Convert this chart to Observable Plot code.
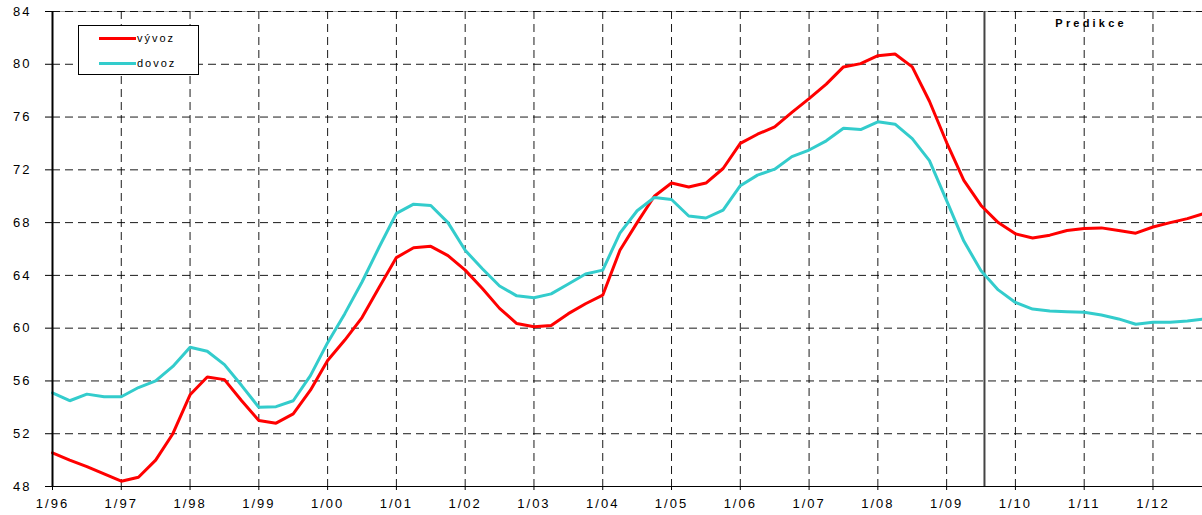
<!DOCTYPE html>
<html>
<head>
<meta charset="utf-8">
<script src="https://cdn.jsdelivr.net/npm/d3@7"></script>
<script src="https://cdn.jsdelivr.net/npm/@observablehq/plot@0.6"></script>
<style>
  html, body { margin: 0; padding: 0; background: #fff; }
  #wrap { position: relative; width: 1202px; height: 515px; }
  .legend { position: absolute; left: 78px; top: 25px; width: 121px; height: 50px;
    border: 1px solid #000; background: #fff; box-sizing: border-box;
    font-family: "Liberation Sans", Arial, sans-serif; font-size: 11px; letter-spacing: 2px; color: #000; }
  .legend .item { position: absolute; left: 20px; height: 14px; display: flex; align-items: center; }
  .legend .sw { width: 37px; height: 3px; margin-right: 1px; }
</style>
</head>
<body>
<div id="wrap"></div>
<script>
// ---- data (quarterly, 1996 Q1 .. 2012 Q4) ----
const startYear = 1996;
const seriesNames = ["vývoz", "dovoz"];
const seriesColors = ["#FF0000", "#33CCCC"];

const vyvoz = [
  50.55, 50.0, 49.5, 48.95,   // 1996
  48.4, 48.7, 50.0, 52.0,     // 1997
  54.95, 56.3, 56.1, 54.5,    // 1998
  53.0, 52.8, 53.5, 55.3,     // 1999
  57.55, 59.1, 60.8, 63.1,    // 2000
  65.35, 66.1, 66.2, 65.5,    // 2001
  64.4, 63.0, 61.5, 60.35,    // 2002
  60.1, 60.2, 61.1, 61.85,    // 2003
  62.5, 65.9, 68.0, 70.0,     // 2004
  71.0, 70.7, 71.0, 72.1,     // 2005
  74.0, 74.7, 75.25, 76.35,   // 2006
  77.4, 78.5, 79.8, 80.05,    // 2007
  80.65, 80.78, 79.8, 77.2,   // 2008
  74.07, 71.2, 69.3, 68.0,    // 2009
  67.15, 66.83, 67.05, 67.4,  // 2010
  67.55, 67.6, 67.4, 67.2,    // 2011
  67.67, 68.0, 68.3, 68.7     // 2012
];
const dovoz = [
  55.1, 54.5, 55.0, 54.8,     // 1996
  54.8, 55.5, 56.0, 57.1,     // 1997
  58.55, 58.25, 57.24, 55.65, // 1998
  54.0, 54.05, 54.5, 56.4,    // 1999
  58.9, 61.1, 63.5, 66.15,    // 2000
  68.7, 69.4, 69.3, 68.0,     // 2001
  65.9, 64.5, 63.2, 62.45,    // 2002
  62.3, 62.6, 63.35, 64.1,    // 2003
  64.4, 67.2, 68.9, 69.9,     // 2004
  69.75, 68.5, 68.35, 68.95,  // 2005
  70.8, 71.6, 72.05, 73.0,    // 2006
  73.5, 74.2, 75.15, 75.05,   // 2007
  75.64, 75.46, 74.37, 72.7,  // 2008
  69.66, 66.6, 64.35, 62.9,   // 2009
  61.95, 61.45, 61.3, 61.25,  // 2010
  61.2, 61.0, 60.7, 60.3,     // 2011
  60.45, 60.45, 60.55, 60.7   // 2012
];

const tickYears = [1996,1997,1998,1999,2000,2001,2002,2003,2004,2005,2006,2007,2008,2009,2010,2011,2012];
const tickLabels = ["1/96","1/97","1/98","1/99","1/00","1/01","1/02","1/03","1/04","1/05","1/06","1/07","1/08","1/09","1/10","1/11","1/12"];
const yTicks = [48,52,56,60,64,68,72,76,80,84];
const predictionStart = 2009.55;
const predictionLabel = "Predikce";
const predictionLabelPos = {x: 2011.1, y: 83.1};

// ---- build table ----
const rows = [];
[vyvoz, dovoz].forEach((arr, s) => arr.forEach((v, i) => rows.push({t: startYear + i / 4, v, s: seriesNames[s]})));

const font = '"Liberation Sans", Arial, sans-serif';

const chart = Plot.plot({
  width: 1202, height: 515,
  marginLeft: 52, marginRight: 0, marginTop: 11, marginBottom: 29,
  style: `font-family: ${font}; font-size: 13px; letter-spacing: 2px; color: #000; background: #fff; overflow: visible;`,
  x: {domain: [1996, 2012.72], label: null},
  y: {domain: [48, 84], label: null},
  color: {domain: seriesNames, range: seriesColors},
  marks: [
    Plot.ruleY([84], {stroke: "#aaa", strokeWidth: 1}),
    Plot.gridY(yTicks.filter(d => d > 48), {stroke: "#000", strokeOpacity: 0.9, strokeWidth: 1, strokeDasharray: "8,5"}),
    Plot.gridX(tickYears.filter(d => d > 1996), {stroke: "#000", strokeOpacity: 0.9, strokeWidth: 1, strokeDasharray: "8,5"}),
    Plot.ruleX([predictionStart], {stroke: "#444", strokeWidth: 2}),
    Plot.line(rows, {x: "t", y: "v", z: "s", stroke: "s", strokeWidth: 3, strokeLinejoin: "miter"}),
    Plot.ruleX([1996], {stroke: "#000", strokeWidth: 2}),
    Plot.ruleY([48], {stroke: "#000", strokeWidth: 1.2}),
    Plot.axisY({ticks: yTicks, tickSize: 7, tickPadding: 14, tickFormat: d => String(d), stroke: "#000", fill: "#000"}),
    Plot.axisX({ticks: tickYears, tickSize: 4, tickPadding: 8, tickFormat: (d) => tickLabels[tickYears.indexOf(d)], stroke: "#000", fill: "#000"}),
    Plot.text([predictionLabel], {x: predictionLabelPos.x, y: predictionLabelPos.y, text: d => d, fontWeight: "bold", fontSize: 11, fill: "#000"})
  ]
});

d3.select(chart).selectAll("text").filter(function() { return this.textContent === predictionLabel; })
  .style("letter-spacing", "3.2px");

const wrap = document.getElementById("wrap");
wrap.appendChild(chart);

// legend overlay
const legend = document.createElement("div");
legend.className = "legend";
seriesNames.forEach((name, i) => {
  const item = document.createElement("div");
  item.className = "item";
  item.style.top = (i === 0 ? 5 : 30) + "px";
  const sw = document.createElement("div");
  sw.className = "sw";
  sw.style.background = seriesColors[i];
  const lab = document.createElement("span");
  lab.textContent = name;
  item.appendChild(sw);
  item.appendChild(lab);
  legend.appendChild(item);
});
wrap.appendChild(legend);
</script>
</body>
</html>
